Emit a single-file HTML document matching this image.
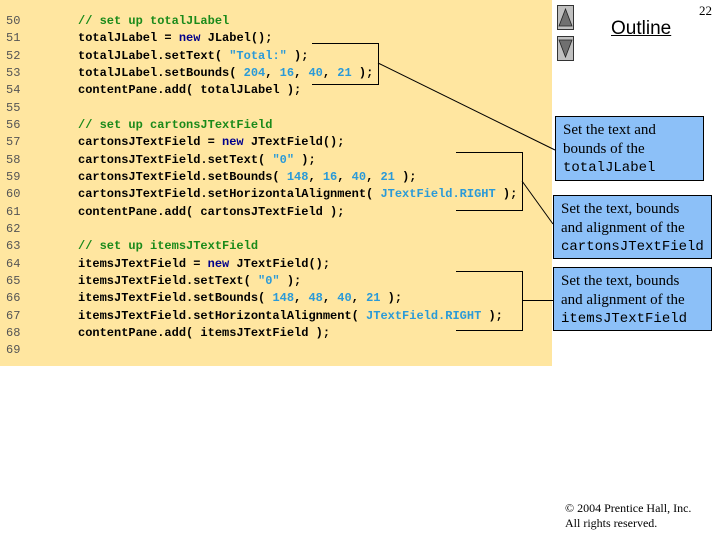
<!DOCTYPE html>
<html><head><meta charset="utf-8"><style>
body{margin:0;width:720px;height:540px;background:#fff;position:relative;overflow:hidden;font-family:"Liberation Sans",sans-serif}
#panel{position:absolute;left:0;top:0;width:552px;height:366px;background:#FFE6A0}
.ln{position:absolute;left:6px;font:12px "Liberation Mono",monospace;color:#555;white-space:pre}
.cd{position:absolute;left:78px;font:bold 12px "Liberation Mono",monospace;color:#000;white-space:pre}
.c{color:#1a8a1a}.k{color:#00008b}.s{color:#2a9ad8}
.box{position:absolute;background:#8CC0F8;border:1px solid #000;font:15px "Liberation Serif",serif;line-height:18.5px;padding:4px 0 0 7px;box-sizing:border-box}
.box .m{font:14px "Liberation Mono",monospace}
.btn{position:absolute;left:557px;width:17px;height:25px;background:#c0c0c0;border:1px solid #333;box-sizing:border-box}
</style></head><body>
<div id="panel"></div>
<div class="ln" style="top:13px;line-height:17.33px">50
51
52
53
54
55
56
57
58
59
60
61
62
63
64
65
66
67
68
69</div>
<div class="cd" style="top:13px;line-height:17.33px"><span class="c">// set up totalJLabel</span>
totalJLabel = <span class="k">new</span> JLabel();
totalJLabel.setText( <span class="s">"Total:"</span> );
totalJLabel.setBounds( <span class="s">204</span>, <span class="s">16</span>, <span class="s">40</span>, <span class="s">21</span> );
contentPane.add( totalJLabel );

<span class="c">// set up cartonsJTextField</span>
cartonsJTextField = <span class="k">new</span> JTextField();
cartonsJTextField.setText( <span class="s">"0"</span> );
cartonsJTextField.setBounds( <span class="s">148</span>, <span class="s">16</span>, <span class="s">40</span>, <span class="s">21</span> );
cartonsJTextField.setHorizontalAlignment( <span class="s">JTextField.RIGHT</span> );
contentPane.add( cartonsJTextField );

<span class="c">// set up itemsJTextField</span>
itemsJTextField = <span class="k">new</span> JTextField();
itemsJTextField.setText( <span class="s">"0"</span> );
itemsJTextField.setBounds( <span class="s">148</span>, <span class="s">48</span>, <span class="s">40</span>, <span class="s">21</span> );
itemsJTextField.setHorizontalAlignment( <span class="s">JTextField.RIGHT</span> );
contentPane.add( itemsJTextField );
</div>
<svg style="position:absolute;left:0;top:0" width="720" height="540">
<g stroke="#000" stroke-width="1" fill="none">
<polyline points="312,43.5 378.5,43.5 378.5,84.5 312,84.5"/>
<line x1="378" y1="63" x2="555" y2="150"/>
<polyline points="456,152.5 522.5,152.5 522.5,210.5 456,210.5"/>
<line x1="522" y1="181" x2="553" y2="224"/>
<polyline points="456,271.5 522.5,271.5 522.5,330.5 456,330.5"/>
<line x1="522" y1="300.5" x2="553" y2="300.5"/>
</g>
</svg>
<div class="btn" style="top:5px"><svg width="15" height="23" style="display:block"><polygon points="7.5,3 14,20 1,20" fill="#707070" stroke="#222" stroke-width=".8"/></svg></div>
<div class="btn" style="top:36px"><svg width="15" height="23" style="display:block"><polygon points="1,3 14,3 7.5,20" fill="#707070" stroke="#222" stroke-width=".8"/></svg></div>
<div style="position:absolute;left:611px;top:18px;font-size:19px;text-decoration:underline">Outline</div>
<div style="position:absolute;left:699px;top:3px;font:13px 'Liberation Serif',serif">22</div>
<div class="box" style="left:555px;top:116px;width:149px;height:65px">Set the text and<br>bounds of the<br><span class="m">totalJLabel</span></div>
<div class="box" style="left:553px;top:195px;width:159px;height:64px;padding-left:7px">Set the text, bounds<br>and alignment of the<br><span class="m">cartonsJTextField</span></div>
<div class="box" style="left:553px;top:267px;width:159px;height:64px">Set the text, bounds<br>and alignment of the<br><span class="m">itemsJTextField</span></div>
<div style="position:absolute;left:565px;top:501px;font:12px 'Liberation Serif',serif;line-height:15px">© 2004 Prentice Hall, Inc.<br>All rights reserved.</div>
</body></html>
